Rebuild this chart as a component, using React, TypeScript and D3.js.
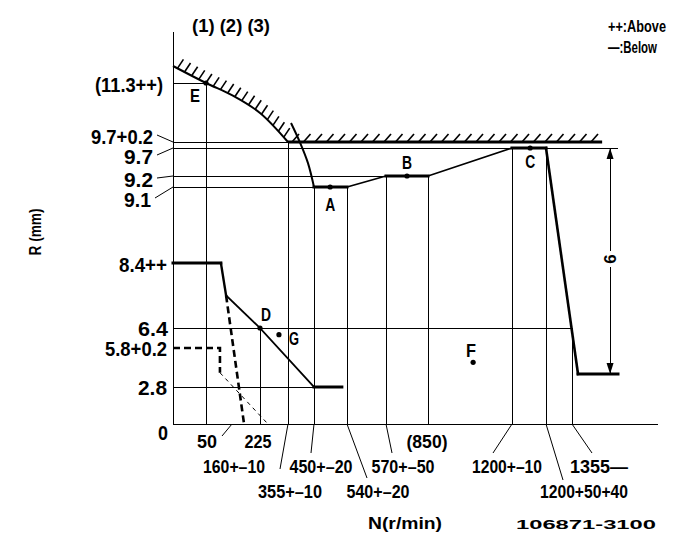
import React, { useEffect, useRef } from 'react';
import * as d3 from 'd3';

// ---- schematic axis knots (non-linear governor diagram axes) ----
const rpmKnots = [0, 50, 160, 225, 355, 450, 540, 570, 850, 1200, 1290, 1355, 1500, 1600];
const rKnots = [0, 2.8, 5.8, 6.4, 8.4, 9.1, 9.2, 9.7, 9.9, 11.3, 12.2];

// ---- curves (rpm, R mm) ----
const limitCurve: [number, number][] = [[0, 11.6], [50, 11.3], [162, 11.0], [225, 10.59], [355, 9.9]];
const limitFlatEnd = 1450;
const droopCurve: [number, number][] = [[366, 10.35], [399, 9.88], [428, 9.43], [450, 9.1]];
const fullLoad: [number, number][] = [[450, 9.1], [540, 9.1], [570, 9.2], [850, 9.2], [1200, 9.7], [1290, 9.7], [1374, 3.8], [1500, 3.8]];
const idleCurve: [number, number][] = [[0, 8.4], [113, 8.4], [135, 7.4], [225, 6.4], [450, 2.8], [526, 2.8]];
const startDashed: [number, number][] = [[0, 5.8], [109, 5.8], [109, 3.9]];
const steepDashed: [number, number][] = [[135, 7.4], [188, 0]];
const thinDashed: [number, number][] = [[109, 3.9], [262, 0]];

// ---- guide lines ----
const guideV: [number, number][] = [[50, 11.3], [225, 6.4], [355, 9.9], [450, 9.1], [540, 9.1], [570, 9.2], [850, 9.2], [1200, 9.7], [1290, 9.7], [1355, 6.4]];
const guideH: [number, number][] = [[11.3, 50], [9.9, 355], [9.7, 1500], [9.2, 570], [9.1, 450], [6.4, 1355], [2.8, 450]];

// ---- measuring points ----
const pointNames = ['A', 'B', 'C', 'D', 'E', 'F', 'G'];
const pointRpm = [494, 710, 1248, 225, 50, 1038, 313];
const pointR = [9.1, 9.2, 9.7, 6.4, 11.3, 4.7, 6.2];

// ---- dimension ----
const dimRpm = 1475;
const dimFrom = 9.7;
const dimTo = 3.8;
const dimLabel = '6';

// ---- tick labels ----
const yTickValues = [11.3, 9.9, 9.7, 9.2, 9.1, 8.4, 6.4, 5.8, 2.8, 0];
const yTickLabels = ['(11.3++)', '9.7+0.2', '9.7', '9.2', '9.1', '8.4++', '6.4', '5.8+0.2', '2.8', '0'];
const xTickValues = [50, 225, 850, 160, 450, 570, 1200, 1355, 355, 540, 1290];
const xTickLabels = ['50', '225', '(850)', '160+–10', '450+–20', '570+–50', '1200+–10', '1355—', '355+–10', '540+–20', '1200+50+40'];

// layout for labels (offsets / widths only)
const yLabelDy = [2, -5, 9, 4, 13, 2, 1, 1, 1, 9];
const yLabelX = [163, 153, 153, 153, 151, 167, 168, 167, 167, 168];
const yLabelW = [68, 62, 29, 29, 27, 48, 30, 62, 29, 10];
const yLeader = [false, true, true, true, true, false, false, false, false, false];
const xLabelRow = [0, 0, 0, 1, 1, 1, 1, 1, 2, 2, 2];
const xLabelCx = [207, 258, 427, 234, 321, 403, 507, 599, 290, 378, 584];
const xLabelW = [20, 27, 41, 62, 63, 63, 70, 58, 64, 63, 88];
const xLeaderEnd: ([number, number] | null)[] = [null, null, null, [-10, 12], [-3, 29], [6, 29], [-19, 29], [20, 29], [-8, 45], [20, 54], [17, 56]];

const SANS = "'Liberation Sans', Arial, sans-serif";

export default function App() {
  const ref = useRef<SVGSVGElement>(null);

  useEffect(() => {
    const svg = d3.select(ref.current);
    svg.selectAll('*').remove();
    const x = d3.scaleLinear().domain(rpmKnots).range([173, 206, 232, 260, 288, 314, 347, 386, 428, 512, 546, 572, 618, 658]);
    const y = d3.scaleLinear().domain(rKnots).range([424, 387, 348, 328, 263, 187, 176, 148, 142, 83, 32]);
    const line = d3.line<[number, number]>().x(d => x(d[0])).y(d => y(d[1]));
    const curve = d3.line<[number, number]>().x(d => x(d[0])).y(d => y(d[1])).curve(d3.curveCatmullRom);

    const g = svg.append('g');
    const txt = (tx: number, ty: number, s: string, size: number, anchor: string, w?: number) => {
      const t = g.append('text').attr('x', tx).attr('y', ty).attr('text-anchor', anchor).attr('dominant-baseline', 'central')
        .attr('font-family', SANS).attr('font-weight', 'bold').attr('font-size', size).attr('fill', '#000').text(s);
      if (w) t.attr('textLength', w).attr('lengthAdjust', 'spacingAndGlyphs');
      return t;
    };

    // guide lines
    const grid = g.append('g').attr('stroke', '#000').attr('stroke-width', 1).attr('shape-rendering', 'crispEdges');
    guideV.forEach(([rpm, top]) => {
      grid.append('line').attr('x1', x(rpm)).attr('x2', x(rpm)).attr('y1', y(top)).attr('y2', y(0));
    });
    guideH.forEach(([r, end]) => {
      grid.append('line').attr('x1', x(0)).attr('x2', x(end)).attr('y1', y(r)).attr('y2', y(r));
    });
    // axes
    grid.append('line').attr('x1', x(0)).attr('x2', x(0)).attr('y1', y(12.2)).attr('y2', y(0));
    grid.append('line').attr('x1', x(0)).attr('x2', x(1600)).attr('y1', y(0)).attr('y2', y(0));

    // limit (hatched) curve
    const lim = g.append('path').attr('d', curve(limitCurve)).attr('fill', 'none').attr('stroke', '#000').attr('stroke-width', 2);
    const node = lim.node() as SVGPathElement;
    const L = node.getTotalLength();
    const hatch = g.append('g').attr('stroke', '#000').attr('stroke-width', 1.6);
    for (let s = 5; s < L - 2; s += 8) {
      const p = node.getPointAtLength(s);
      hatch.append('line').attr('x1', p.x).attr('y1', p.y).attr('x2', p.x + 6).attr('y2', p.y - 9);
    }
    g.append('line').attr('x1', x(355)).attr('x2', x(limitFlatEnd)).attr('y1', y(9.9)).attr('y2', y(9.9))
      .attr('stroke', '#000').attr('stroke-width', 3);
    for (let px = x(355) + 4; px < x(limitFlatEnd) - 4; px += 11.5) {
      hatch.append('line').attr('x1', px).attr('y1', y(9.9)).attr('x2', px + 7).attr('y2', y(9.9) - 8);
    }

    // droop curve
    g.append('path').attr('d', curve(droopCurve)).attr('fill', 'none').attr('stroke', '#000').attr('stroke-width', 2);

    const segs = (pts: [number, number][], flatW: number, slopeW: number, steepW: number) => {
      for (let i = 0; i < pts.length - 1; i++) {
        const a = pts[i], b = pts[i + 1];
        const flat = a[1] === b[1];
        const steep = Math.abs(y(b[1]) - y(a[1])) > 2 * Math.abs(x(b[0]) - x(a[0]));
        g.append('path').attr('d', line([a, b])).attr('fill', 'none').attr('stroke', '#000')
          .attr('stroke-width', flat ? flatW : steep ? steepW : slopeW).attr('stroke-linecap', 'square');
      }
    };
    segs(fullLoad, 3, 1.6, 2.6);
    segs(idleCurve, 3, 1.8, 2.4);

    // dashed
    g.append('path').attr('d', line(startDashed)).attr('fill', 'none').attr('stroke', '#000').attr('stroke-width', 2.6).attr('stroke-dasharray', '7,4');
    g.append('path').attr('d', line(steepDashed)).attr('fill', 'none').attr('stroke', '#000').attr('stroke-width', 2.6).attr('stroke-dasharray', '7,4');
    g.append('path').attr('d', line(thinDashed)).attr('fill', 'none').attr('stroke', '#000').attr('stroke-width', 1).attr('stroke-dasharray', '4,4');

    // points
    const ptLabelOff: [number, number][] = [[0, 18], [0, -13], [0, 14], [6, -13], [-11, 13], [-2, -11], [15, 4]];
    pointNames.forEach((n, i) => {
      const px = x(pointRpm[i]), py = y(pointR[i]);
      g.append('circle').attr('cx', px).attr('cy', py).attr('r', 2.6).attr('fill', '#000');
      txt(px + ptLabelOff[i][0], py + ptLabelOff[i][1], n, 18, 'middle', 10);
    });

    // dimension arrow
    const dx = x(dimRpm), dy1 = y(dimFrom), dy2 = y(dimTo);
    g.append('line').attr('x1', dx).attr('x2', dx).attr('y1', dy1).attr('y2', dy2).attr('stroke', '#000').attr('stroke-width', 1).attr('shape-rendering', 'crispEdges');
    g.append('path').attr('d', `M${dx},${dy1} L${dx - 3.5},${dy1 + 11} L${dx + 3.5},${dy1 + 11} Z`).attr('fill', '#000');
    g.append('path').attr('d', `M${dx},${dy2} L${dx - 3.5},${dy2 - 11} L${dx + 3.5},${dy2 - 11} Z`).attr('fill', '#000');
    const my = (dy1 + dy2) / 2 - 2;
    g.append('rect').attr('x', dx - 8).attr('y', my - 8).attr('width', 16).attr('height', 16).attr('fill', '#fff');
    g.append('text').attr('transform', `translate(${dx},${my}) rotate(-90)`).attr('text-anchor', 'middle').attr('dominant-baseline', 'central')
      .attr('font-family', SANS).attr('font-weight', 'bold').attr('font-size', 17).text(dimLabel);

    // y tick labels
    yTickValues.forEach((v, i) => {
      const cy = y(v) + yLabelDy[i];
      txt(yLabelX[i], cy, yTickLabels[i], 19.5, 'end', yLabelW[i]);
      if (yLeader[i]) {
        g.append('line').attr('x1', yLabelX[i] + 4).attr('y1', cy - 2).attr('x2', x(0)).attr('y2', y(v)).attr('stroke', '#000').attr('stroke-width', 1);
      }
    });

    // x tick labels
    const rowY = [442, 467, 492];
    xTickValues.forEach((v, i) => {
      txt(xLabelCx[i], rowY[xLabelRow[i]], xTickLabels[i], 18, 'middle', xLabelW[i]);
      const le = xLeaderEnd[i];
      if (le) {
        g.append('line').attr('x1', x(v)).attr('y1', y(0)).attr('x2', x(v) + le[0]).attr('y2', y(0) + le[1]).attr('stroke', '#000').attr('stroke-width', 1);
      }
    });

    // titles
    txt(405, 523, 'N(r/min)', 17, 'middle', 74);
    g.append('text').attr('transform', 'translate(35,232) rotate(-90)').attr('text-anchor', 'middle').attr('dominant-baseline', 'central')
      .attr('font-family', SANS).attr('font-weight', 'bold').attr('font-size', 16).attr('textLength', 47).attr('lengthAdjust', 'spacingAndGlyphs').text('R (mm)');
    txt(192, 26, '(1) (2) (3)', 18, 'start', 78);
    txt(608, 26, '++:Above', 16, 'start', 58);
    txt(608, 47, '—:Below', 16, 'start', 49);
    txt(586, 525, '106871-3100', 12.5, 'middle', 140);
  }, []);

  return (
    <svg ref={ref} width={685} height={549} style={{ position: 'absolute', left: 0, top: 0, background: '#fff' }} />
  );
}
